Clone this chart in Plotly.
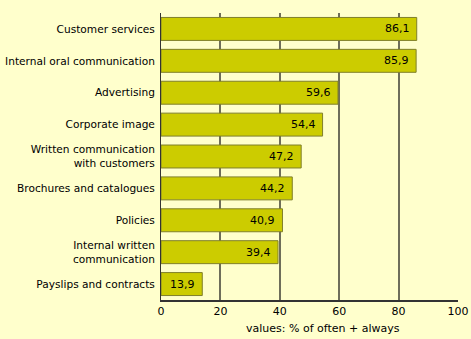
import plotly.graph_objects as go

categories = [
    "Customer services",
    "Internal oral communication",
    "Advertising",
    "Corporate image",
    "Written communication<br>with customers",
    "Brochures and catalogues",
    "Policies",
    "Internal written<br>communication",
    "Payslips and contracts",
]
values = [86.1, 85.9, 59.6, 54.4, 47.2, 44.2, 40.9, 39.4, 13.9]
value_labels = ["86,1", "85,9", "59,6", "54,4", "47,2", "44,2", "40,9", "39,4", "13,9"]
x_ticks = [0, 20, 40, 60, 80, 100]

FONT = "DejaVu Sans"
BG = "#FFFFCC"
BAR = "#CCCC00"
EDGE = "#7F7F2A"
GRID = "#6E6E5A"

fig = go.Figure(
    go.Bar(
        x=values,
        y=categories,
        orientation="h",
        marker=dict(color=BAR, line=dict(color=EDGE, width=1)),
        hoverinfo="skip",
    )
)

# value labels sit inside each bar, right-aligned near its end
for cat, val, lab in zip(categories, values, value_labels):
    fig.add_annotation(
        x=val, y=cat, text=lab, showarrow=False,
        xanchor="right", xshift=-5,
        font=dict(family=FONT, size=11, color="#000000"),
    )

fig.add_annotation(
    x=0.545, y=0, xref="paper", yref="paper", yanchor="top", yshift=-20,
    text="values: % of often + always", showarrow=False,
    font=dict(family=FONT, size=11, color="#000000"),
)

fig.update_layout(
    width=471, height=339,
    margin=dict(l=161, r=13, t=13, b=39, autoexpand=False),
    paper_bgcolor=BG, plot_bgcolor=BG,
    bargap=0.28,
    showlegend=False,
    font=dict(family=FONT, size=11, color="#000000"),
)
fig.update_xaxes(
    range=[0, 100], tickvals=x_ticks, ticktext=[str(t) for t in x_ticks],
    showgrid=True, gridcolor=GRID, gridwidth=1.5,
    showline=True, linecolor="#333333", linewidth=1.5,
    zeroline=False, ticks="", fixedrange=True, automargin=False,
)
fig.update_yaxes(
    categoryorder="array", categoryarray=categories, autorange="reversed",
    showline=True, linecolor="#333333", linewidth=1,
    showgrid=False, ticks="", ticklabelstandoff=3, fixedrange=True,
    tickfont=dict(family=FONT, size=10.6, color="#000000"),
    automargin=False,
)

fig.write_html("out.html")
